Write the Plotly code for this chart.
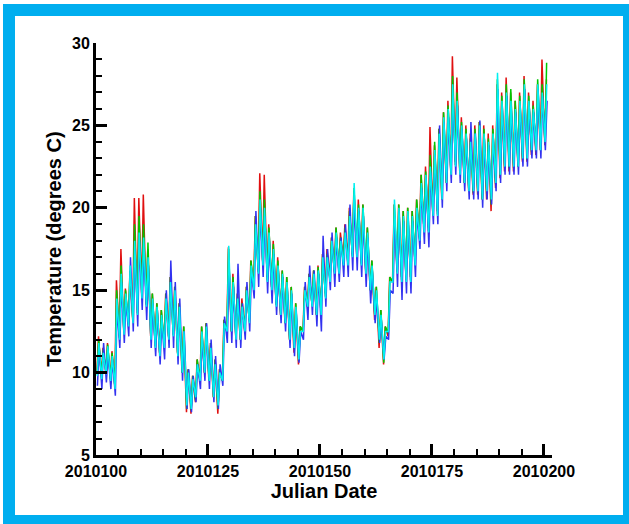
import plotly.graph_objects as go

# ---------------- data ----------------
DAYS = list(range(100, 201))          # day of year 2010, daily cycle
YEAR_BASE = 2010000

SERIES_NAMES = ["red", "green", "blue", "cyan"]

RED_HI = [12.2, 11.5, 11.8, 11.3, 15.6, 17.5, 15.1, 16.0, 20.6, 20.6,
          20.8, 17.5, 14.8, 14.2, 13.8, 14.8, 15.8, 15.2, 14.2, 12.8,
          10.2, 9.8, 10.8, 12.8, 13.0, 11.8, 10.8, 10.2, 13.2, 17.6,
          16.0, 14.8, 14.5, 15.2, 16.8, 19.5, 22.1, 22.0, 19.0, 18.0,
          17.0, 16.2, 15.8, 15.2, 14.2, 12.8, 15.2, 16.0, 16.2, 16.5,
          17.2, 17.5, 18.2, 18.8, 18.5, 19.0, 20.0, 21.0, 20.5, 20.2,
          18.8, 16.8, 15.2, 13.8, 12.8, 15.8, 20.2, 20.2, 19.8, 20.0,
          19.8, 20.5, 22.0, 22.5, 24.9, 23.8, 24.8, 25.8, 26.5, 29.2,
          27.9, 25.5, 25.0, 24.5, 25.0, 25.2, 25.0, 24.5, 25.0, 27.5,
          27.0, 27.9, 27.0, 26.5, 27.0, 28.0, 27.0, 26.5, 27.5, 29.0,
          27.8]
RED_LO = [10.0, 9.8, 10.0, 9.7, 9.2, 12.2, 12.5, 13.0, 13.2, 13.8,
          14.8, 14.2, 12.2, 11.8, 11.2, 11.8, 12.2, 12.5, 11.2, 10.0,
          7.6, 7.5, 8.2, 9.5, 10.0, 9.5, 8.5, 7.5, 9.5, 12.5,
          12.5, 12.2, 12.0, 12.5, 13.2, 15.2, 16.2, 16.8, 15.8, 15.2,
          14.2, 13.5, 13.0, 12.0, 11.2, 10.5, 12.5, 14.0, 14.2, 13.5,
          13.8, 14.8, 15.8, 16.2, 16.2, 16.8, 16.8, 17.2, 17.2, 16.8,
          16.2, 15.0, 13.2, 11.5, 10.5, 12.2, 15.5, 16.2, 15.8, 15.8,
          15.8, 16.8, 18.2, 18.8, 18.8, 19.5, 19.8, 20.5, 21.5, 22.2,
          22.8, 22.2, 21.5, 21.0, 20.8, 20.8, 20.5, 20.5, 19.8, 21.2,
          21.8, 22.2, 22.2, 22.2, 22.5, 22.8, 22.8, 23.2, 23.2, 23.5,
          23.8]

GREEN_HI = [12.0, 11.4, 11.7, 11.2, 15.0, 16.5, 15.0, 16.2, 19.0, 19.5,
            19.0, 17.9, 14.8, 14.2, 13.8, 14.8, 15.8, 15.2, 14.2, 12.8,
            10.2, 9.8, 10.8, 12.8, 13.0, 11.8, 10.8, 10.2, 13.2, 17.5,
            15.8, 14.8, 14.2, 15.2, 16.8, 19.5, 21.0, 20.5, 18.8, 17.8,
            16.8, 16.2, 15.8, 15.2, 14.2, 12.8, 15.2, 16.0, 16.2, 16.4,
            17.2, 17.2, 18.2, 18.8, 18.2, 18.8, 19.8, 21.2, 20.2, 20.2,
            18.8, 16.8, 15.2, 13.8, 12.8, 15.8, 20.2, 20.2, 19.8, 20.0,
            19.8, 20.5, 22.0, 22.2, 23.2, 24.0, 24.8, 25.8, 26.2, 28.0,
            27.0, 25.2, 24.8, 24.2, 24.8, 25.2, 24.8, 24.2, 24.8, 27.8,
            26.8, 27.5, 27.2, 26.5, 26.8, 27.8, 26.8, 26.2, 27.8, 27.5,
            28.8]
GREEN_LO = [9.9, 9.7, 10.0, 9.6, 9.1, 12.1, 12.4, 12.9, 13.1, 13.6,
            14.6, 14.1, 12.1, 11.6, 11.1, 11.6, 12.1, 12.3, 11.1, 10.0,
            7.8, 7.7, 8.3, 9.5, 10.0, 9.5, 8.5, 7.8, 9.5, 12.5,
            12.5, 12.1, 12.0, 12.5, 13.1, 15.1, 16.1, 16.6, 15.6, 15.1,
            14.1, 13.5, 13.0, 12.0, 11.4, 10.7, 12.5, 14.0, 14.1, 13.5,
            13.6, 14.6, 15.6, 16.1, 16.1, 16.6, 16.6, 17.1, 17.1, 16.6,
            16.1, 15.0, 13.4, 11.8, 10.6, 12.4, 15.5, 16.1, 15.6, 15.6,
            15.6, 16.6, 18.1, 18.6, 18.6, 19.5, 19.6, 20.5, 21.5, 22.1,
            22.6, 22.1, 21.5, 21.0, 20.9, 20.9, 20.5, 20.8, 20.2, 21.4,
            21.9, 22.4, 22.4, 22.4, 22.5, 22.9, 22.9, 23.4, 23.4, 23.5,
            23.9]

BLUE_HI = [11.5, 11.8, 11.2, 10.8, 14.0, 15.5, 14.5, 17.0, 17.5, 18.0,
           17.5, 16.5, 14.2, 13.8, 13.2, 15.0, 16.8, 15.5, 14.5, 12.5,
           10.2, 9.8, 10.5, 12.2, 13.0, 12.0, 11.0, 10.5, 13.4, 16.5,
           15.2, 16.6, 14.2, 15.5, 16.2, 19.8, 20.0, 19.5, 18.0, 17.2,
           16.2, 15.8, 15.2, 14.8, 13.8, 12.5, 15.5, 16.5, 16.2, 16.0,
           18.3, 17.5, 18.5, 18.2, 18.2, 19.0, 20.2, 20.5, 19.8, 19.5,
           18.2, 16.2, 14.5, 13.2, 12.2, 15.0, 19.5, 19.8, 19.2, 19.5,
           19.2, 19.8, 21.2, 21.8, 22.2, 23.2, 25.0, 25.2, 25.5, 26.8,
           26.2, 24.8, 24.2, 25.2, 24.5, 25.3, 24.2, 23.8, 24.2, 27.2,
           26.2, 26.8, 26.2, 25.8, 26.2, 27.2, 26.2, 25.8, 27.2, 26.8,
           26.5]
BLUE_LO = [9.2, 9.0, 9.4, 9.0, 8.6, 11.5, 11.8, 12.2, 12.5, 12.8,
           13.8, 13.2, 11.5, 11.0, 10.5, 10.8, 11.5, 11.5, 10.5, 9.5,
           7.8, 7.6, 8.2, 9.0, 9.5, 9.0, 8.2, 7.8, 9.2, 11.8,
           11.8, 11.5, 11.5, 12.0, 12.5, 14.5, 15.2, 15.8, 14.8, 14.2,
           13.5, 13.0, 12.5, 11.5, 11.0, 10.6, 12.0, 13.2, 13.5, 12.8,
           12.5, 14.0, 15.0, 15.2, 15.5, 15.8, 15.8, 16.2, 16.2, 15.8,
           15.2, 14.2, 13.0, 11.8, 10.8, 12.0, 14.8, 15.2, 14.4, 14.8,
           14.8, 15.8, 17.5, 17.8, 17.6, 19.0, 19.0, 20.0, 21.0, 21.5,
           22.0, 21.5, 21.0, 20.5, 20.5, 20.5, 20.0, 20.5, 20.2, 21.0,
           21.5, 22.0, 22.0, 22.0, 22.0, 22.5, 22.5, 23.0, 23.0, 23.0,
           23.5]

CYAN_HI = [11.8, 11.2, 11.6, 11.0, 14.5, 16.0, 14.8, 16.5, 18.0, 18.5,
           18.2, 17.0, 14.5, 14.0, 13.5, 14.5, 15.5, 15.0, 14.0, 12.5,
           10.0, 9.6, 10.5, 12.5, 12.8, 11.5, 10.5, 10.0, 13.0, 17.7,
           15.5, 14.5, 14.0, 15.0, 16.5, 19.0, 20.5, 20.0, 18.5, 17.5,
           16.5, 16.0, 15.5, 15.0, 14.0, 12.5, 15.0, 15.8, 16.0, 16.2,
           17.0, 17.0, 18.0, 18.5, 18.0, 18.5, 19.5, 21.5, 20.0, 20.0,
           18.5, 16.5, 15.0, 13.5, 12.5, 15.5, 20.5, 20.0, 19.5, 19.8,
           19.5, 20.0, 21.5, 22.0, 22.5, 23.5, 24.5, 25.5, 26.0, 27.5,
           26.5, 25.0, 24.5, 24.0, 24.5, 25.0, 24.5, 24.0, 24.5, 28.2,
           26.5, 27.0, 26.5, 26.0, 26.5, 27.5, 26.5, 26.0, 27.5, 27.0,
           27.5]
CYAN_LO = [9.8, 9.6, 9.9, 9.5, 9.0, 12.0, 12.3, 12.8, 13.0, 13.5,
           14.5, 14.0, 12.0, 11.5, 11.0, 11.5, 12.0, 12.2, 11.0, 10.0,
           8.0, 7.8, 8.5, 9.5, 10.0, 9.5, 8.5, 8.0, 9.5, 12.5,
           12.5, 12.0, 12.0, 12.5, 13.0, 15.0, 16.0, 16.5, 15.5, 15.0,
           14.0, 13.5, 13.0, 12.0, 11.5, 10.8, 12.5, 14.0, 14.0, 13.5,
           13.5, 14.5, 15.5, 16.0, 16.0, 16.5, 16.5, 17.0, 17.0, 16.5,
           16.0, 15.0, 13.5, 12.0, 10.8, 12.5, 15.5, 16.0, 15.5, 15.5,
           15.5, 16.5, 18.0, 18.5, 18.5, 19.5, 19.5, 20.5, 21.5, 22.0,
           22.5, 22.0, 21.5, 21.0, 21.0, 21.0, 20.5, 21.0, 20.5, 21.5,
           22.0, 22.5, 22.5, 22.5, 22.5, 23.0, 23.0, 23.5, 23.5, 23.5,
           24.0]

SERIES_LO = [RED_LO, GREEN_LO, BLUE_LO, CYAN_LO]
SERIES_HI = [RED_HI, GREEN_HI, BLUE_HI, CYAN_HI]

# time of day (fraction) of the daily minimum / maximum for each series
SERIES_MIN_FRAC = [0.20, 0.24, 0.32, 0.27]
SERIES_MAX_FRAC = [0.56, 0.60, 0.70, 0.63]

X_TICKVALS = [2010100, 2010125, 2010150, 2010175, 2010200]
X_TICKTEXT = ["2010100", "2010125", "2010150", "2010175", "2010200"]
Y_TICKVALS = [5, 10, 15, 20, 25, 30]
Y_TICKTEXT = ["5", "10", "15", "20", "25", "30"]

X_TITLE = "Julian Date"
Y_TITLE = "Temperature (degrees C)"

# ---------------- styling ----------------
SERIES_COLORS = ["#e01010", "#00c800", "#3232f0", "#00f0f0"]
FONT = "Arial, 'Liberation Sans', sans-serif"


def daily_cycle(lo, hi, fmin, fmax):
    xs, ys = [], []
    for d, l, h in zip(DAYS, lo, hi):
        xs += [YEAR_BASE + d + fmin, YEAR_BASE + d + fmax]
        ys += [l, h]
    return xs, ys


fig = go.Figure()
for name, color, lo, hi, fmin, fmax in zip(SERIES_NAMES, SERIES_COLORS, SERIES_LO,
                                           SERIES_HI, SERIES_MIN_FRAC, SERIES_MAX_FRAC):
    xs, ys = daily_cycle(lo, hi, fmin, fmax)
    fig.add_trace(go.Scatter(x=xs, y=ys, mode="lines", name=name,
                             line=dict(color=color, width=1.5),
                             showlegend=False, hoverinfo="skip"))

W, H = 629, 524
ML, MR, MT, MB = 96, 77, 43, 69
PW, PH = W - ML - MR, H - MT - MB


def px_rect(l, t, r, b, color):
    fig.add_shape(type="rect", xref="paper", yref="paper", layer="below",
                  x0=(l - ML) / PW, x1=(r - ML) / PW,
                  y0=(H - MB - b) / PH, y1=(H - MB - t) / PH,
                  fillcolor=color, line=dict(width=0))


# blue frame, then the white panel inside it
px_rect(3, 4, 640, 540, "#00aeef")
px_rect(15, 16, 623, 515, "white")

fig.update_layout(
    width=W, height=H,
    margin=dict(l=ML, r=MR, t=MT, b=MB, pad=0),
    paper_bgcolor="white",
    plot_bgcolor="white",
    showlegend=False,
    font=dict(family=FONT, color="black"),
)

fig.update_xaxes(
    range=[2010100, 2010201.8],
    tickvals=X_TICKVALS, ticktext=X_TICKTEXT,
    ticks="inside", ticklen=11, tickwidth=3, tickcolor="black",
    minor=dict(dtick=5, tick0=2010100, ticks="inside", ticklen=6,
               tickwidth=1.5, tickcolor="black"),
    showline=True, linewidth=3, linecolor="black",
    showgrid=False, zeroline=False,
    tickfont=dict(family=FONT, size=16, color="black", weight="bold"),
    title=dict(text=X_TITLE, standoff=0,
               font=dict(family=FONT, size=20, color="black", weight="bold")),
)
fig.update_yaxes(
    range=[5, 30],
    tickvals=Y_TICKVALS, ticktext=Y_TICKTEXT,
    ticks="inside", ticklen=11, tickwidth=3, tickcolor="black",
    minor=dict(dtick=1, tick0=5, ticks="inside", ticklen=6,
               tickwidth=1.5, tickcolor="black"),
    showline=True, linewidth=3, linecolor="black",
    showgrid=False, zeroline=False,
    tickfont=dict(family=FONT, size=16, color="black", weight="bold"),
    title=dict(text=Y_TITLE, standoff=6,
               font=dict(family=FONT, size=20, color="black", weight="bold")),
)

fig.write_html("out.html")
